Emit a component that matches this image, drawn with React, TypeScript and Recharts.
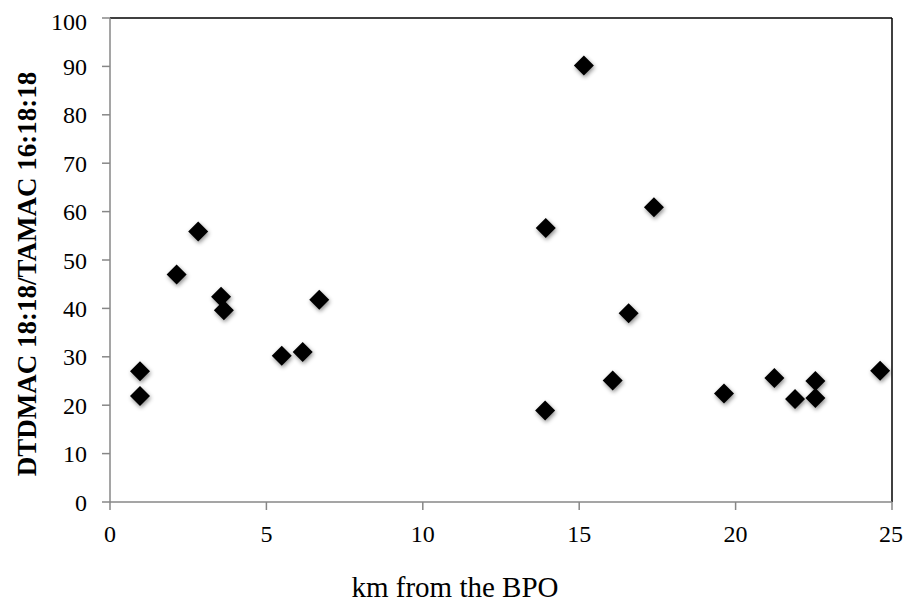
import { ScatterChart, Scatter, XAxis, YAxis, ReferenceLine, Label } from 'recharts'

const distanceKm = [0.96, 0.96, 2.13, 2.82, 3.55, 3.64, 5.49, 6.16, 6.69, 13.93, 13.91, 15.15, 16.07, 16.58, 17.39, 19.63, 21.24, 21.9, 22.55, 22.55, 24.62]
const ratio = [27.0, 21.9, 47.0, 55.9, 42.4, 39.6, 30.2, 31.0, 41.8, 56.6, 18.9, 90.2, 25.1, 39.0, 60.9, 22.4, 25.6, 21.3, 25.0, 21.5, 27.1]
const xTicks = [0, 5, 10, 15, 20, 25]
const yTicks = [0, 10, 20, 30, 40, 50, 60, 70, 80, 90, 100]

const points = distanceKm.map((x, i) => ({ x, y: ratio[i] }))

const FONT = "'Liberation Serif', 'Times New Roman', serif"
const AXIS_GREY = '#878787'

function Diamond(props: any) {
  const { cx, cy } = props
  if (cx == null || cy == null) return null
  const r = 10
  return (
    <path
      d={`M${cx},${cy - r} L${cx + r},${cy} L${cx},${cy + r} L${cx - r},${cy} Z`}
      fill="#000"
      style={{ filter: 'drop-shadow(1px 2px 2px rgba(0,0,0,0.45))' }}
    />
  )
}

export default function App() {
  return (
    <ScatterChart
      width={895}
      height={600}
      margin={{ top: 10, right: 11, left: 22, bottom: 66 }}
      style={{ fontFamily: FONT }}
    >
      <XAxis
        type="number"
        dataKey="x"
        domain={[0, 25]}
        ticks={xTicks}
        height={40}
        stroke={AXIS_GREY}
        strokeWidth={1.5}
        tickSize={8}
        tickMargin={15}
        tick={{ fill: '#000', fontSize: 24, fontFamily: FONT }}
        allowDataOverflow
      >
        <Label
          content={({ viewBox }: any) => (
            <text
              x={viewBox.x + viewBox.width / 2 - 46}
              y={589}
              textAnchor="middle"
              fontSize={29}
              fontFamily={FONT}
              fill="#000"
            >
              km from the BPO
            </text>
          )}
        />
      </XAxis>
      <YAxis
        type="number"
        dataKey="y"
        domain={[0, 100]}
        ticks={yTicks}
        width={80}
        stroke={AXIS_GREY}
        strokeWidth={1.5}
        tickSize={8}
        tickMargin={15}
        tick={{ fill: '#000', fontSize: 24, fontFamily: FONT }}
        allowDataOverflow
      >
        <Label
          content={({ viewBox }: any) => {
            const cx = 18.5
            const cy = viewBox.y + viewBox.height / 2 + 14
            return (
              <text
                x={cx}
                y={cy}
                transform={`rotate(-90 ${cx} ${cy})`}
                textAnchor="middle"
                dominantBaseline="central"
                fontSize={27}
                fontWeight="bold"
                fontFamily={FONT}
                fill="#000"
              >
                DTDMAC 18:18/TAMAC 16:18:18
              </text>
            )
          }}
        />
      </YAxis>
      <ReferenceLine y={100} stroke="#000" strokeWidth={1.5} />
      <ReferenceLine x={25} stroke="#000" strokeWidth={1.5} />
      <Scatter data={points} shape={<Diamond />} isAnimationActive={false} />
    </ScatterChart>
  )
}
